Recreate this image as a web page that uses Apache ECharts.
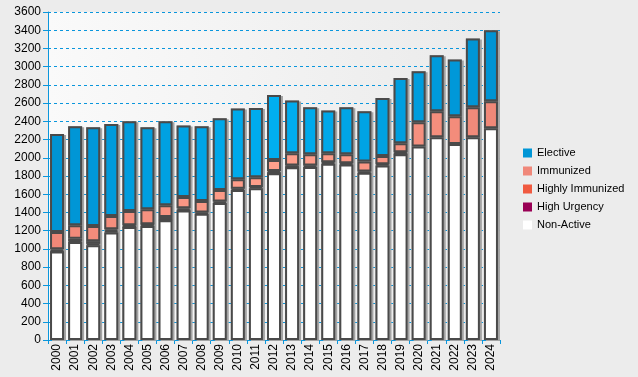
<!DOCTYPE html>
<html>
<head>
<meta charset="utf-8">
<script src="https://cdn.jsdelivr.net/npm/echarts@6/dist/echarts.min.js"></script>
<style>
  html, body { margin: 0; padding: 0; background: #ececec; }
  #chart { width: 638px; height: 377px; }
</style>
</head>
<body>
<div id="chart"></div>
<script>
var years = ['2000','2001','2002','2003','2004','2005','2006','2007','2008','2009','2010','2011','2012',
             '2013','2014','2015','2016','2017','2018','2019','2020','2021','2022','2023','2024'];

var nonActive       = [970,1075,1040,1180,1240,1250,1315,1420,1385,1505,1645,1665,1830,1895,1900,1935,1925,1835,1915,2040,2125,2225,2150,2225,2325];
var highUrgency     = [5,10,15,15,5,15,5,5,15,15,0,15,5,5,15,15,15,15,15,5,0,0,0,0,0];
var highlyImmunized = [20,25,30,20,15,5,30,20,0,0,15,0,20,15,0,0,0,0,0,15,0,0,0,0,0];
var immunized       = [190,150,165,145,155,165,130,125,125,125,105,105,120,135,125,100,100,110,90,100,265,285,305,330,295];
var elective        = [1075,1085,1085,1010,985,900,920,785,820,790,775,760,715,580,515,470,515,550,635,715,560,615,625,755,780];

// total height of each bar, only used for the drop shadow behind it
var totals = years.map(function (y, i) {
  return nonActive[i] + highUrgency[i] + highlyImmunized[i] + immunized[i] + elective[i];
});

// soft lighting across the plot: bars in the middle are a little brighter
function mix(a, b, t) {
  var ca = [parseInt(a.substr(1,2),16), parseInt(a.substr(3,2),16), parseInt(a.substr(5,2),16)];
  var cb = [parseInt(b.substr(1,2),16), parseInt(b.substr(3,2),16), parseInt(b.substr(5,2),16)];
  return 'rgb(' + ca.map(function (v, k) { return Math.round(v + (cb[k] - v) * t); }).join(',') + ')';
}
function lit(edge, center) {
  return function (p) {
    var t = 1 - Math.abs(p.dataIndex - 12) / 12;
    return mix(edge, center, t);
  };
}

var BAR_W = 14;

function makeSeries(name, data, color) {
  return {
    name: name,
    type: 'bar',
    stack: 'total',
    barWidth: BAR_W,
    barGap: '-100%',
    z: 3,
    // empty segments would still draw a border line, so leave them out
    data: data.map(function (v) { return v === 0 ? '-' : v; }),
    itemStyle: { color: color, borderColor: '#4a4a4a', borderWidth: 2 }
  };
}

var myChart = echarts.init(document.getElementById('chart'));
var option = {
  animation: false,
  backgroundColor: '#ececec',
  textStyle: { fontFamily: 'Liberation Sans, Arial, sans-serif' },
  grid: {
    left: 48, right: 138, top: 12, bottom: 37,
    show: true,
    borderWidth: 0,
    backgroundColor: new echarts.graphic.LinearGradient(0, 0, 1, 0, [
      { offset: 0, color: '#fafafa' },
      { offset: 1, color: '#eaeaea' }
    ])
  },
  legend: {
    orient: 'vertical',
    left: 518,
    top: 141,
    itemWidth: 9,
    itemHeight: 9,
    itemGap: 4,
    icon: 'rect',
    textStyle: { fontSize: 11, color: '#000', lineHeight: 14 },
    data: [
      { name: 'Elective', itemStyle: { color: '#0096d6', borderWidth: 0 } },
      { name: 'Immunized', itemStyle: { color: '#f0887a', borderWidth: 0 } },
      { name: 'Highly Immunized', itemStyle: { color: '#f05a40', borderWidth: 0 } },
      { name: 'High Urgency', itemStyle: { color: '#990055', borderWidth: 0 } },
      { name: 'Non-Active', itemStyle: { color: '#ffffff', borderWidth: 0 } }
    ]
  },
  xAxis: {
    type: 'category',
    data: years,
    axisLine: { lineStyle: { color: '#0a96dc', width: 1 } },
    axisTick: { show: true, length: 4, lineStyle: { color: '#0a96dc' } },
    axisLabel: { rotate: 90, color: '#000', fontSize: 12, margin: 4 }
  },
  yAxis: {
    type: 'value',
    min: 0,
    max: 3600,
    interval: 200,
    axisLine: { show: true, lineStyle: { color: '#0a96dc', width: 1 } },
    axisTick: { show: true, length: 5, lineStyle: { color: '#0a96dc' } },
    axisLabel: { color: '#000', fontSize: 12, margin: 7, formatter: function (v) { return String(v); } },
    splitLine: { lineStyle: { color: '#0a96dc', type: [3, 3], width: 1 } }
  },
  series: [
    {
      name: 'shadow',
      type: 'bar',
      stack: 'shadow',
      barWidth: BAR_W,
      barGap: '-100%',
      z: 1,
      silent: true,
      data: totals,
      itemStyle: {
        color: '#a4a4a4',
        shadowColor: '#a4a4a4',
        shadowOffsetX: 2,
        shadowOffsetY: 1,
        shadowBlur: 0
      }
    },
    makeSeries('Non-Active', nonActive, '#ffffff'),
    makeSeries('High Urgency', highUrgency, '#990055'),
    makeSeries('Highly Immunized', highlyImmunized, '#f05a40'),
    makeSeries('Immunized', immunized, lit('#f08878', '#ffa08c')),
    makeSeries('Elective', elective, lit('#0094d4', '#00aef0'))
  ]
};
myChart.setOption(option);
</script>
</body>
</html>
